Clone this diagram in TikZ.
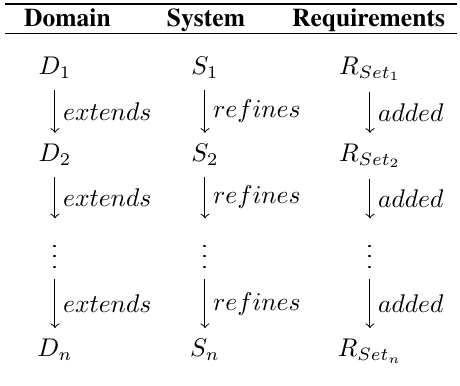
\documentclass[tikz,border=0pt]{standalone}
\usepackage[T1]{fontenc}
\usepackage{amsmath}

\begin{document}
\begin{tikzpicture}[
    cell/.style={anchor=base, inner sep=4.2pt},
    head/.style={anchor=base, font=\fontfamily{ptm}\selectfont\bfseries},
    rel/.style={midway, right, inner sep=3pt}
  ]
      \useasboundingbox (0,0) rectangle (6.326,5.295);

      % Rules
      \coordinate (topl) at (0.069,5.246);
      \coordinate (topr) at (6.285,5.246);
      \coordinate (midl) at (0.069,4.834);
      \coordinate (midr) at (6.285,4.834);
      \draw[line width=0.8pt] (topl) -- (topr);
      \draw[line width=0.5pt] (midl) -- (midr);

      % Headings
      \node[head] (hdom) at (0.928,4.930) {Domain};
      \node[head] (hsys) at (2.833,4.930) {System};
      \node[head] (hreq) at (5.068,4.930) {Requirements};

      % Domain column
      \node[cell] (d1) at (0.756,4.270) {$D_1$};
      \node[cell] (d2) at (0.756,3.074) {$D_2$};
      \node[cell] (dv) at (0.756,1.609) {$\vdots$};
      \node[cell] (dn) at (0.756,0.389) {$D_n$};

      % System column
      \node[cell] (s1) at (2.819,4.270) {$S_1$};
      \node[cell] (s2) at (2.819,3.074) {$S_2$};
      \node[cell] (sv) at (2.819,1.609) {$\vdots$};
      \node[cell] (sn) at (2.819,0.389) {$S_n$};

      % Requirements column
      \node[cell] (r1) at (5.088,4.270) {$R_{Set_1}$};
      \node[cell] (r2) at (5.088,3.074) {$R_{Set_2}$};
      \node[cell] (rv) at (5.088,1.609) {$\vdots$};
      \node[cell] (rn) at (5.088,0.389) {$R_{Set_n}$};

      % Arrows
      \draw[->] (d1) -- node[rel] {$extends$} (d2);
      \draw[->] (d2) -- node[rel] {$extends$} (dv);
      \draw[->] (dv) -- node[rel] {$extends$} (dn);

      \draw[->] (s1) -- node[rel] {$refines$} (s2);
      \draw[->] (s2) -- node[rel] {$refines$} (sv);
      \draw[->] (sv) -- node[rel] {$refines$} (sn);

      \draw[->] (r1) -- node[rel] {$added$} (r2);
      \draw[->] (r2) -- node[rel] {$added$} (rv);
      \draw[->] (rv) -- node[rel] {$added$} (rn);

    \end{tikzpicture}
\end{document}
